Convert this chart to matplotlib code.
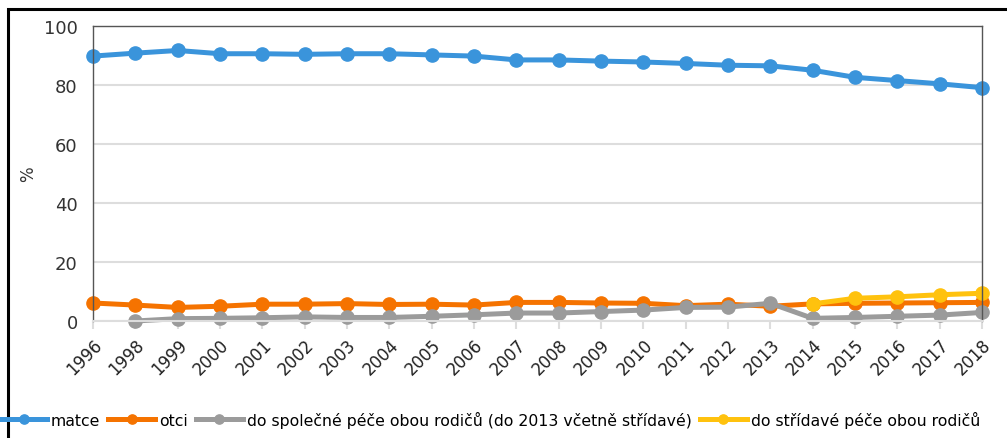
import matplotlib
matplotlib.use("Agg")
import matplotlib.pyplot as plt
from matplotlib.patches import Rectangle
import numpy as np

plt.rcParams["font.family"] = ["DejaVu Sans"]

# Data
years = ["1996", "1998", "1999", "2000", "2001", "2002", "2003", "2004", "2005",
         "2006", "2007", "2008", "2009", "2010", "2011", "2012", "2013", "2014",
         "2015", "2016", "2017", "2018"]
matce = [89.8, 90.8, 91.7, 90.6, 90.6, 90.4, 90.6, 90.6, 90.2, 89.8, 88.5,
         88.5, 88.1, 87.8, 87.3, 86.7, 86.5, 85.0, 82.6, 81.5, 80.4, 79.1]
otci = [6.1, 5.4, 4.6, 5.0, 5.7, 5.7, 5.9, 5.6, 5.7, 5.4, 6.3,
        6.3, 6.1, 6.0, 5.2, 5.7, 5.0, 5.8, 6.0, 6.1, 6.2, 6.3]
spolecna = [None, 0.0, 0.8, 0.9, 1.1, 1.4, 1.2, 1.2, 1.6, 2.1, 2.7,
            2.7, 3.2, 3.7, 4.6, 4.7, 6.0, 0.9, 1.2, 1.6, 2.0, 2.9]
stridava = [None] * 17 + [5.8, 7.7, 8.2, 8.9, 9.4]

labels = ["matce", "otci", "do společné péče obou rodičů (do 2013 včetně střídavé)",
          "do střídavé péče obou rodičů"]
colors = ["#3a94db", "#f57300", "#9b9b9b", "#ffc20e"]

x = np.arange(len(years))

fig = plt.figure(figsize=(10.07, 4.39), dpi=100)
ax = fig.add_axes([93 / 1007, 1 - 322 / 439, (982 - 93) / 1007, (322 - 27) / 439])

for vals, lab, col in zip([matce, otci, spolecna, stridava], labels, colors):
    y = np.array([np.nan if v is None else v for v in vals], dtype=float)
    ax.plot(x, y, color=col, lw=3.6, marker="o", ms=9.5, label=lab,
            clip_on=False, solid_joinstyle="round")

ax.set_xlim(0, len(years) - 1)
ax.set_ylim(0, 100)
ax.set_yticks([0, 20, 40, 60, 80, 100])
ax.set_xticks(x)
ax.set_xticklabels(years, rotation=45, ha="right", rotation_mode="anchor")
ax.tick_params(axis="y", length=0, labelsize=13, colors="#333333", pad=11)
ax.tick_params(axis="x", length=6, color="#dddddd", width=1.5, labelsize=12,
               labelcolor="#222222", pad=4)
ax.grid(axis="y", color="#dddddd", lw=1.5)
ax.set_axisbelow(True)
for s in ["top", "left", "right"]:
    ax.spines[s].set_color("#555555")
    ax.spines[s].set_linewidth(1.0)
ax.spines["bottom"].set_color("#dddddd")
ax.spines["bottom"].set_linewidth(1.5)
ax.set_ylabel("%", fontsize=12, color="#333333", labelpad=5)

fig.legend(loc="center left", bbox_to_anchor=(0.0, 1 - 420 / 439), ncol=4,
           frameon=False, fontsize=11.3, handlelength=3.0, handletextpad=0.25,
           columnspacing=0.5, markerscale=0.7, borderaxespad=0, borderpad=0)

# outer frame
fig.add_artist(Rectangle((8 / 1007, -0.1), 1.2, 1.1 - 10 / 439, transform=fig.transFigure,
                         fill=False, edgecolor="black", lw=2.2))

fig.savefig("out.png", dpi=100)
